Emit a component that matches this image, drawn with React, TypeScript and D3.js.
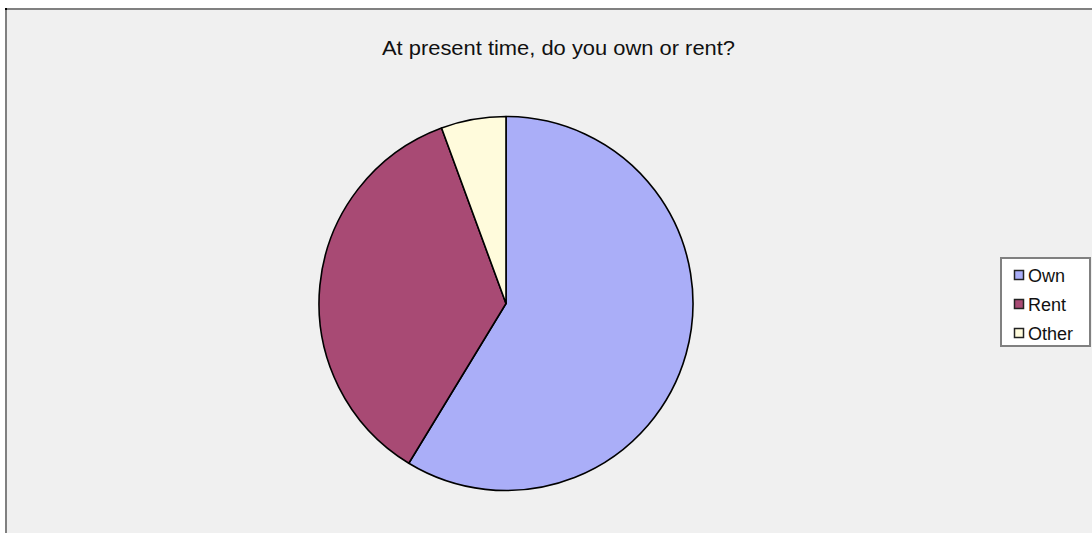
import React from "react";
import * as d3 from "d3";

const categories = ["Own", "Rent", "Other"];
const values = [58.7, 35.7, 5.6];
const colors = ["#aaaef8", "#a84a74", "#fffbdc"];
const title = "At present time, do you own or rent?";

export default function App() {
  const W = 1092, H = 533;
  const cx = 506, cy = 303.5, r = 187;
  const pie = d3.pie<number>().sort(null).value((d) => d);
  const arcs = pie(values);
  const arc = d3.arc<d3.PieArcDatum<number>>().innerRadius(0).outerRadius(r);
  const legendY = d3.scalePoint<string>().domain(categories).range([275, 333]);
  return (
    <svg width={W} height={H} style={{ position: "absolute", left: 0, top: 0, fontFamily: "Liberation Sans, Arial, sans-serif" }}>
      <rect x={0} y={0} width={W} height={H} fill="#ffffff" />
      <rect x={6} y={9} width={W + 10} height={H + 10} fill="#f0f0f0" stroke="#808080" strokeWidth={2} />
      <rect x={5} y={8} width={2} height={2} fill="#000" />
      <text x={558.5} y={55} textAnchor="middle" fontSize={21} fill="#111" textLength={353} lengthAdjust="spacingAndGlyphs">{title}</text>
      <g transform={`translate(${cx},${cy})`}>
        {arcs.map((a, i) => (
          <path key={i} d={arc(a) || ""} fill={colors[i]} stroke="#000" strokeWidth={1.6} strokeLinejoin="round" />
        ))}
      </g>
      <rect x={1001} y={258} width={89} height={88} fill="#ffffff" stroke="#808080" strokeWidth={2} />
      {categories.map((c, i) => {
        const y = legendY(c)!;
        return (
          <g key={c}>
            <rect x={1014.5} y={y - 4.5} width={9} height={9} fill={colors[i]} stroke="#222" strokeWidth={1.5} />
            <text x={1028} y={y + 6.5} fontSize={18} fill="#111">{c}</text>
          </g>
        );
      })}
    </svg>
  );
}
